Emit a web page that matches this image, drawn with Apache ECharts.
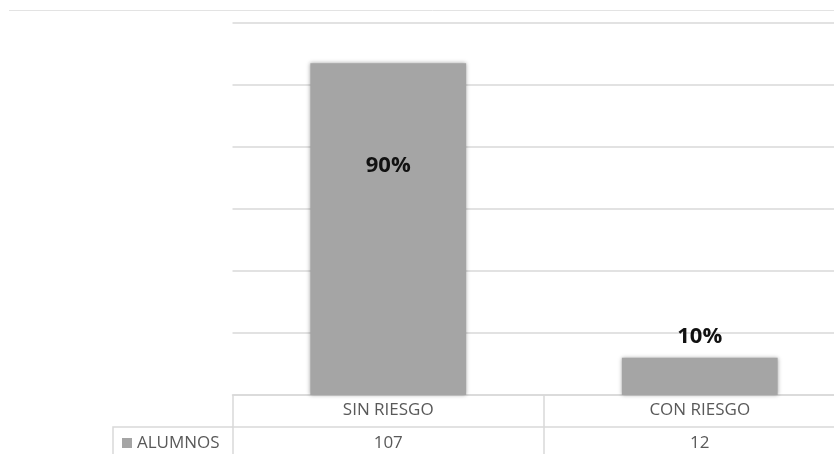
<!DOCTYPE html>
<html>
<head>
<meta charset="utf-8">
<script src="https://cdn.jsdelivr.net/npm/echarts@6/dist/echarts.min.js"></script>
<style>
  html, body { margin: 0; padding: 0; background: #ffffff; overflow: hidden; }
  /* the plot runs past the right edge of the page, as in a cropped sheet */
  #wrap { width: 834px; height: 454px; overflow: hidden; }
  #chart { width: 856px; height: 454px; }
</style>
</head>
<body>
<div id="wrap"><div id="chart"></div></div>
<script>
// Student counts by risk group
const categories = ['SIN RIESGO', 'CON RIESGO'];
const seriesName = 'ALUMNOS';
const alumnos = [107, 12];

// Value axis range (gridlines only, no tick labels)
const yMin = 0;
const yMax = 120;
const yInterval = 20;

const total = alumnos.reduce((a, b) => a + b, 0);
const pct = v => Math.round(v / total * 100) + '%';

const FONT = '"Open Sans", "Noto Sans", sans-serif';
const GRID_COLOR = '#d9d9d9';
const TEXT_COLOR = '#595959';

// Per-bar label placement (offset from the bar's top edge)
const labelOffsets = [102, -21];

const chart = echarts.init(document.getElementById('chart'), null, { renderer: 'canvas' });

chart.setOption({
  animation: false,
  backgroundColor: '#ffffff',
  grid: { left: 232.5, top: 23, right: 0.5, height: 372, containLabel: false },
  legend: {
    data: [seriesName],
    left: 122,
    top: 433,
    padding: 0,
    icon: 'rect',
    itemWidth: 10,
    itemHeight: 10,
    itemGap: 6,
    selectedMode: false,
    textStyle: { color: TEXT_COLOR, fontFamily: FONT, fontSize: 17, lineHeight: 20, padding: [0, 0, 0, 0] }
  },
  xAxis: [
    {
      type: 'category',
      data: categories,
      position: 'bottom',
      boundaryGap: true,
      axisLine: { show: true, lineStyle: { color: GRID_COLOR, width: 1.5 } },
      axisTick: { show: true, interval: 0, length: 60, lineStyle: { color: GRID_COLOR, width: 1.5 } },
      axisLabel: {
        interval: 0, margin: 15, verticalAlign: 'middle',
        color: TEXT_COLOR, fontFamily: FONT, fontSize: 17
      }
    },
    {
      type: 'category',
      data: categories,
      position: 'bottom',
      offset: 32,
      boundaryGap: true,
      axisLine: { show: true, lineStyle: { color: GRID_COLOR, width: 1.5 } },
      axisTick: { show: false },
      axisLabel: {
        interval: 0, margin: 16, verticalAlign: 'middle',
        color: TEXT_COLOR, fontFamily: FONT, fontSize: 17,
        formatter: (v, i) => String(alumnos[i])
      }
    }
  ],
  yAxis: {
    type: 'value',
    min: yMin,
    max: yMax,
    interval: yInterval,
    axisLine: { show: false },
    axisTick: { show: false },
    axisLabel: { show: false },
    splitLine: { show: true, lineStyle: { color: GRID_COLOR, width: 1.5 } }
  },
  series: [
    {
      name: seriesName,
      type: 'bar',
      barWidth: '50%',
      data: alumnos.map((v, i) => ({
        value: v,
        label: {
          position: ['50%', labelOffsets[i]]
        }
      })),
      itemStyle: {
        color: '#a5a5a5',
        shadowColor: 'rgba(0,0,0,0.35)',
        shadowBlur: 4
      },
      label: {
        show: true,
        align: 'center',
        verticalAlign: 'middle',
        color: '#111111',
        fontFamily: FONT,
        fontWeight: 'bold',
        fontSize: 22,
        formatter: p => pct(p.value)
      }
    }
  ],
  graphic: [
    // outer frame line along the top
    { type: 'line', silent: true, shape: { x1: 9, y1: 10.5, x2: 856, y2: 10.5 }, style: { stroke: '#e3e3e3', lineWidth: 1 } },
    // legend cell of the data table
    { type: 'polyline', silent: true, shape: { points: [[113, 460], [113, 427], [233, 427]] }, style: { stroke: GRID_COLOR, lineWidth: 1.5, fill: null } }
  ]
});
</script>
</body>
</html>
